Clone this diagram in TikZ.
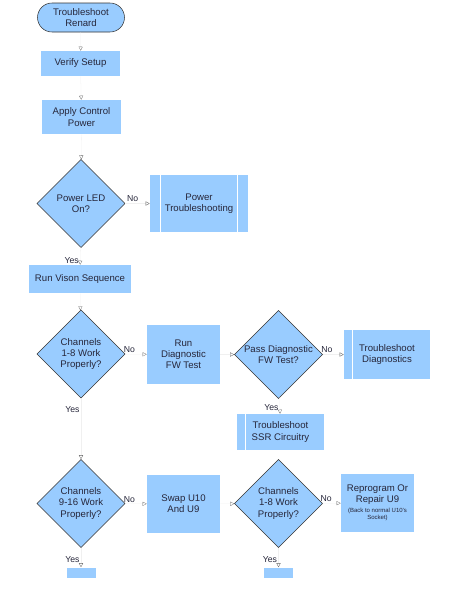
\documentclass[tikz,border=0pt]{standalone}
\usepackage{fontspec}
\setmainfont{Liberation Sans}
\usetikzlibrary{shapes.geometric,shapes.misc,arrows.meta}
\definecolor{flowblue}{HTML}{99CCFF}
\definecolor{flowtext}{HTML}{26263A}
\begin{document}
\begin{tikzpicture}[x=0.75pt,y=-0.75pt,
  every node/.style={font=\fontsize{7.2}{8.4}\selectfont,text=flowtext,align=center},
  box/.style={fill=flowblue,inner sep=0pt},
  decision/.style={shape=diamond,fill=flowblue,draw=black!80,line width=0.4pt,inner sep=-8pt,minimum width=66pt,minimum height=66pt},
  flow/.style={draw=gray!12,line width=0.2pt,-{Triangle[open,length=3pt,width=3pt,color=black!60]}},
  lbl/.style={font=\fontsize{6.5}{7}\selectfont,inner sep=1pt}]
  \useasboundingbox (0,0) rectangle (453,600);
  \node[box,shape=rounded rectangle,draw=black!80,minimum width=65.25pt,minimum height=21.75pt] (start) at (81,17.5) {Troubleshoot\\Renard};
  \node[box,minimum width=59.25pt,minimum height=18.75pt] (setup) at (80.5,63.5) {Verify Setup};
  \node[box,minimum width=59.25pt,minimum height=25.5pt] (power) at (81.5,117) {Apply Control\\Power};
  \node[decision] (led) at (81,203.5) {Power LED\\On?};
  \node[box,minimum width=73.5pt,minimum height=42.75pt] (powerts) at (199,203.5) {Power\\Troubleshooting};
  \node[box,minimum width=76.5pt,minimum height=21pt] (vison) at (80,279) {Run Vison Sequence};
  \node[decision] (chlow) at (81,354) {Channels\\1-8 Work\\Properly?};
  \node[box,minimum width=54.75pt,minimum height=44.25pt] (diag) at (183.5,354.5) {Run\\Diagnostic\\FW Test};
  \node[decision] (pass) at (278.5,354.5) {Pass Diagnostic\\FW Test?};
  \node[box,minimum width=64.5pt,minimum height=36.75pt] (tsdiag) at (387,354.5) {Troubleshoot\\Diagnostics};
  \node[box,minimum width=65.25pt,minimum height=27pt] (ssr) at (280.5,432) {Troubleshoot\\SSR Circuitry};
  \node[decision] (chhigh) at (81,503.5) {Channels\\9-16 Work\\Properly?};
  \node[box,minimum width=54.75pt,minimum height=43.5pt] (swap) at (183.5,504) {Swap U10\\And U9};
  \node[decision] (chlowb) at (278.5,503.5) {Channels\\1-8 Work\\Properly?};
  \node[box,minimum width=54.75pt,minimum height=43.5pt] (repair) at (377.5,503) {Reprogram Or\\Repair U9\\[-1pt]\fontsize{4.5}{5}\selectfont (Back to normal U10's\\[-3pt]\fontsize{4.5}{5}\selectfont Socket)};
  \node[box,minimum width=21.75pt,minimum height=7.5pt] (offa) at (81,572.5) {};
  \node[box,minimum width=21.75pt,minimum height=7.5pt] (offb) at (278.5,572.5) {};
  % predefined process bars
  \draw[white,line width=0.75pt] ([xshift=8.25pt]powerts.north west) -- ([xshift=8.25pt]powerts.south west);
  \draw[white,line width=0.75pt] ([xshift=-8.25pt]powerts.north east) -- ([xshift=-8.25pt]powerts.south east);
  \draw[white,line width=0.75pt] ([xshift=6.75pt]tsdiag.north west) -- ([xshift=6.75pt]tsdiag.south west);
  \draw[white,line width=0.75pt] ([xshift=6.75pt]ssr.north west) -- ([xshift=6.75pt]ssr.south west);
  % connectors
  \path [flow](start) edge (setup);
  \path [flow](setup) edge (power);
  \path [flow](power) edge (led);
  \path [flow](led) edge node[lbl,pos=0.3,above] {No} (powerts);
  \path [flow](led) edge node[lbl,pos=0.75,left] {Yes} (vison);
  \path [flow](vison) edge (chlow);
  \path [flow](chlow) edge node[lbl,pos=0.2,above] {No} (diag);
  \path [flow](chlow) edge node[lbl,pos=0.18,left] {Yes} (chhigh);
  \path [flow](diag) edge (pass);
  \path [flow](pass) edge node[lbl,pos=0.2,above] {No} (tsdiag);
  \path [flow](pass) edge node[lbl,pos=0.6,left] {Yes} (ssr);
  \path [flow](chhigh) edge node[lbl,pos=0.2,above] {No} (swap);
  \path [flow](swap) edge (chlowb);
  \path [flow](chlowb) edge node[lbl,pos=0.2,above] {No} (repair);
  \path [flow](chhigh) edge node[lbl,pos=0.6,left] {Yes} (offa);
  \path [flow](chlowb) edge node[lbl,pos=0.6,left] {Yes} (offb);
\end{tikzpicture}
\end{document}
